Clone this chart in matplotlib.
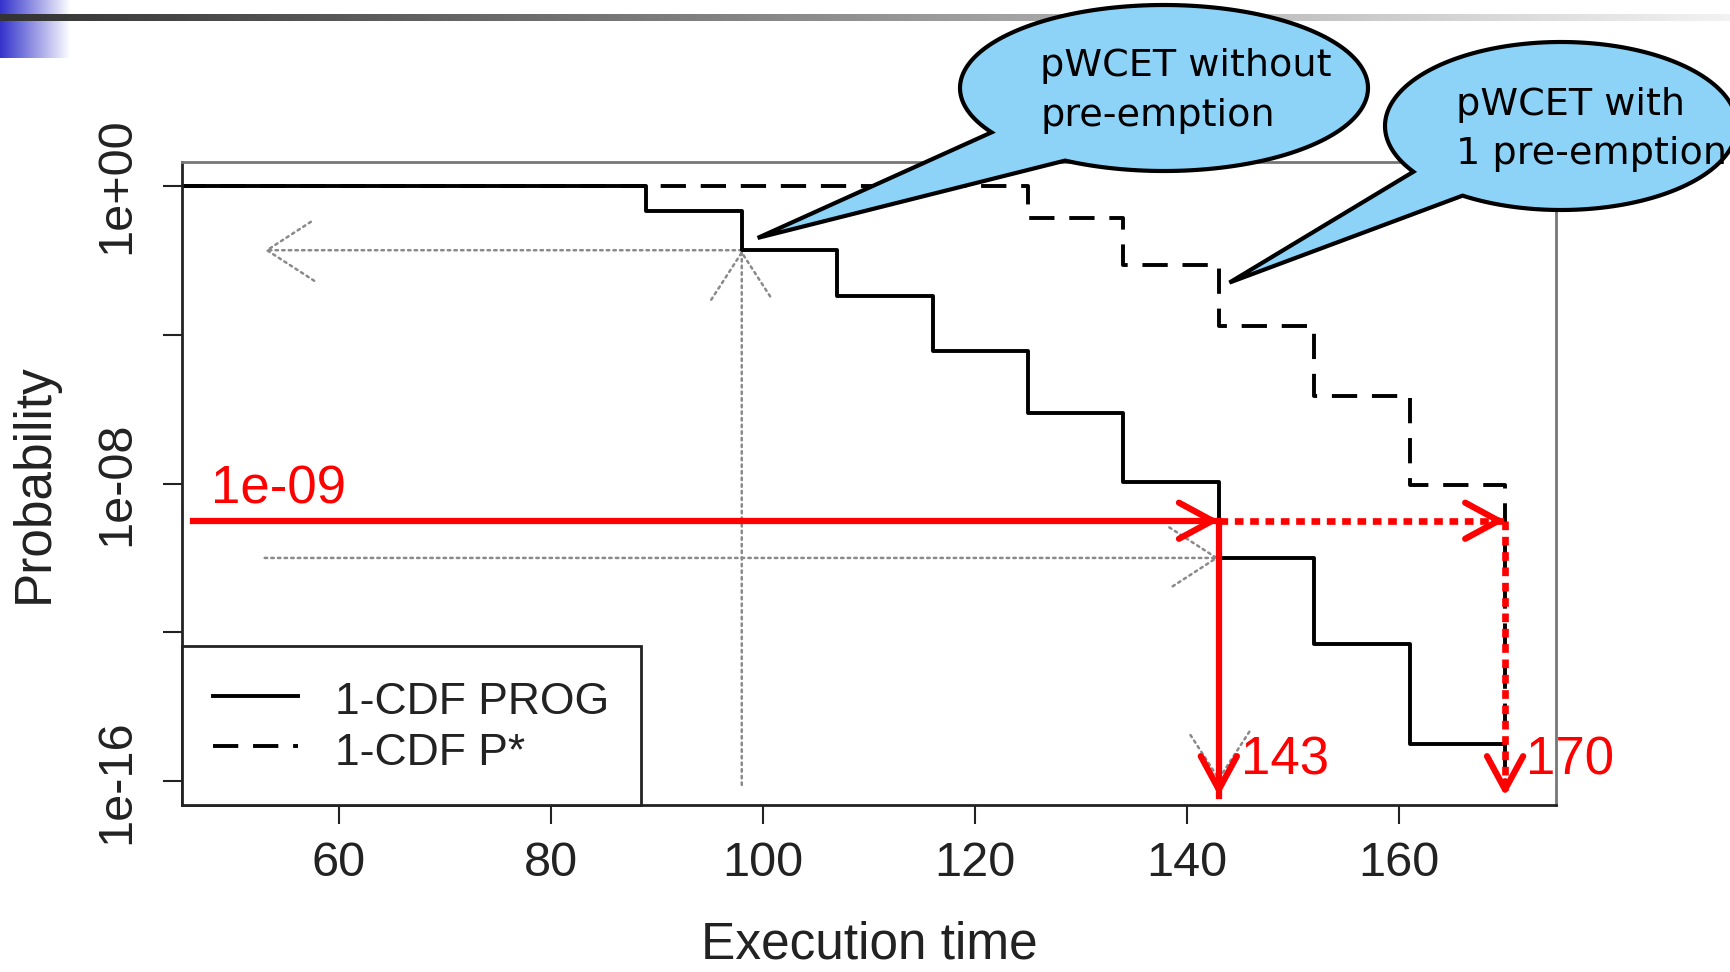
import numpy as np
import matplotlib.pyplot as plt
from matplotlib import font_manager
from matplotlib.patches import FancyArrowPatch, PathPatch
from matplotlib.path import Path

# 1-CDF curves, stored as log10 of the exceedance probability
prog_time = [45, 89, 98, 107, 116, 125, 134, 143, 152, 161, 170]
prog_log = [0, -0.68, -1.73, -2.95, -4.43, -6.1, -7.95, -10.0, -12.3, -15.0, -15.0]
pstar_time = [45, 125, 134, 143, 152, 161, 170]
pstar_log = [0, -0.86, -2.14, -3.78, -5.65, -8.04, -16.0]

prog_p = [10.0 ** v for v in prog_log]
pstar_p = [10.0 ** v for v in pstar_log]

x_ticks = [60, 80, 100, 120, 140, 160]
y_ticks = [1e0, 1e-4, 1e-8, 1e-12, 1e-16]
y_tick_labels = ['1e+00', '', '1e-08', '', '1e-16']

target_p = 1e-9
pwcet_prog = 143
pwcet_pstar = 170

W, H = 1730, 972
plt.rcParams['font.family'] = ['Liberation Sans', 'DejaVu Sans']

# a condensed face for the callouts if one is installed
narrow = 'Liberation Sans'
for f in font_manager.fontManager.ttflist:
    if ('Narrow' in f.name or 'Condensed' in f.name or
            f.stretch in ('condensed', 'semi-condensed')) and 'Mono' not in f.name \
            and 'Serif' not in f.name:
        narrow = f.name
        break

fig = plt.figure(figsize=(W / 100, H / 100), dpi=100)
ax = fig.add_axes([0.1052, 0.1718, 0.7942, 0.6615])

ax.step(prog_time, prog_p, where='post', color='black', lw=2.8, label='1-CDF PROG')
ax.step(pstar_time, pstar_p, where='post', color='black', lw=2.8,
        linestyle=(0, (6.5, 3.8)), label='1-CDF P*')

ax.set_yscale('log')
ax.set_xlim(45.2, 174.8)
ax.set_ylim(10 ** -16.64, 10 ** 0.64)
ax.set_xticks(x_ticks)
ax.set_xticklabels([str(t) for t in x_ticks])
ax.set_yticks(y_ticks)
ax.set_yticklabels(y_tick_labels)
ax.minorticks_off()
ax.tick_params(axis='both', direction='out', length=14, width=1.5, color='#222',
               labelsize=35, labelcolor='#222')
ax.tick_params(axis='x', pad=12)
ax.tick_params(axis='y', pad=17, labelrotation=90)
for lab in ax.get_yticklabels():
    lab.set_va('center')
for s in ['left', 'bottom']:
    ax.spines[s].set_color('#222')
    ax.spines[s].set_linewidth(2)
for s in ['top', 'right']:
    ax.spines[s].set_color('#777')
    ax.spines[s].set_linewidth(2)

ax.set_xlabel('Execution time', fontsize=37, color='#222', labelpad=25)
ax.set_ylabel('Probability', fontsize=37, color='#222', labelpad=25)

leg = ax.legend(loc='lower left', bbox_to_anchor=(0, 0), borderaxespad=0,
                fontsize=32, frameon=True, fancybox=False, handlelength=1.9,
                handleheight=1.15, handletextpad=0.85, borderpad=0.7,
                labelspacing=0.1)
leg.get_frame().set_edgecolor('#222')
leg.get_frame().set_linewidth(2)
leg.get_frame().set_alpha(1)
for t in leg.get_texts():
    t.set_color('#222')

# grey dotted reading arrows
grey = '#8a8a8a'
def grey_arrow(a, b):
    ax.add_patch(FancyArrowPatch(a, b, arrowstyle='->,head_length=34,head_width=22',
                                 mutation_scale=1, color=grey, lw=1.8, linestyle=':',
                                 shrinkA=0, shrinkB=0, zorder=1))

grey_arrow((98, 10 ** -1.73), (53, 10 ** -1.73))
grey_arrow((98, 10 ** -16.1), (98, 10 ** -1.73))
grey_arrow((53, 1e-10), (143, 1e-10))
grey_arrow((143, 1e-10), (143, 10 ** -16.0))

# red pWCET arrows
red = '#ff0000'
def red_head(a, b):
    ax.add_patch(FancyArrowPatch(a, b, arrowstyle='->,head_length=24,head_width=13',
                                 mutation_scale=1, color=red, lw=4.5,
                                 shrinkA=0, shrinkB=0, zorder=5, clip_on=False))

y_end = 10 ** -16.4
ax.plot([46.2, pwcet_prog], [target_p, target_p], color=red, lw=4.5, zorder=5)
red_head((pwcet_prog - 1, target_p), (pwcet_prog, target_p))
ax.plot([pwcet_prog, pwcet_prog], [target_p, y_end], color=red, lw=4.5, zorder=5)
red_head((pwcet_prog, 10 ** -16.0), (pwcet_prog, y_end))

dots = (0, (1.3, 1.0))
ax.plot([pwcet_prog, pwcet_pstar], [target_p, target_p], color=red, lw=4.8,
        linestyle=dots, dash_capstyle='butt', zorder=5)
red_head((pwcet_pstar - 1, target_p), (pwcet_pstar, target_p))
ax.plot([pwcet_pstar, pwcet_pstar], [target_p, y_end], color=red, lw=4.8,
        linestyle=dots, dash_capstyle='butt', zorder=5)
red_head((pwcet_pstar, 10 ** -16.0), (pwcet_pstar, y_end))

ax.text(47.9, 10 ** -8.15, '1e-09', color=red, fontsize=38,
        ha='left', va='center', zorder=6)
ax.text(145.1, 10 ** -15.45, str(pwcet_prog), color=red, fontsize=38,
        ha='left', va='center', zorder=6)
ax.text(172.0, 10 ** -15.45, str(pwcet_pstar), color=red, fontsize=38,
        ha='left', va='center', zorder=6)

# overlay in pixel coordinates for slide decoration and callouts
deco = fig.add_axes([0, 0, 1, 1], zorder=10)
deco.axis('off')
deco.patch.set_visible(False)

grad = np.linspace(0, 1, 256)
blue = np.array([0.2, 0.2, 0.8])
blue_img = np.array([[blue + (1 - blue) * min(1, g * 1.25) for g in grad]])
deco.imshow(blue_img, extent=(0, 88, 58, 0), aspect='auto', zorder=1)
bar_img = np.array([[np.array([0.2, 0.2, 0.2]) + 0.75 * g for g in grad]])
deco.imshow(bar_img, extent=(0, W, 21, 14), aspect='auto', zorder=2)
deco.set_xlim(0, W)
deco.set_ylim(H, 0)


def to_px(x, y):
    px, py = ax.transData.transform((x, y))
    return px, H - py


def callout(cx, cy, a, b, t_start, t_end, tip):
    t = np.radians(np.linspace(t_start, t_end + 360, 200))
    pts = list(zip(cx + a * np.cos(t), cy + b * np.sin(t)))
    pts.append(tip)
    pts.append(pts[0])
    codes = [Path.MOVETO] + [Path.LINETO] * (len(pts) - 2) + [Path.CLOSEPOLY]
    deco.add_patch(PathPatch(Path(pts, codes), facecolor='#8dd3f7',
                             edgecolor='black', lw=3, zorder=5))


callout(1164, 88, 204, 83, 147.7, 119, to_px(99.5, 10 ** -1.4))
callout(1561, 126, 176, 84, 147, 124, to_px(144, 10 ** -2.6))

bubble_lines = [
    (1040, 66, 'pWCET without'), (1040, 116, 'pre-emption'),
    (1456, 105, 'pWCET with'), (1456, 154, '1 pre-emption'),
]
bubble_texts = [deco.text(x, y, s, fontsize=36, family=[narrow, 'DejaVu Sans'],
                          ha='left', va='center', zorder=6)
                for x, y, s in bubble_lines]

# fit the callout text to the width it has on the slide
fig.canvas.draw()
w0 = bubble_texts[0].get_window_extent(fig.canvas.get_renderer()).width
for t in bubble_texts:
    t.set_fontsize(36 * 292 / w0)

fig.savefig('out.png', dpi=100)
